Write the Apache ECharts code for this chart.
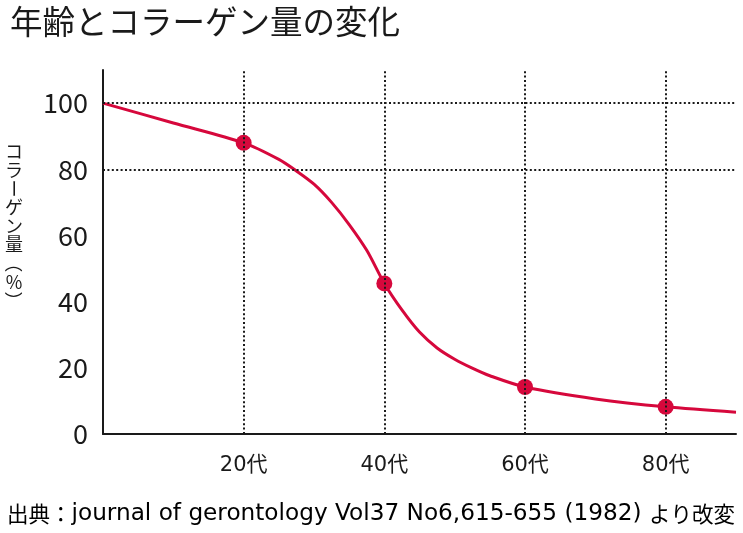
<!DOCTYPE html>
<html><head><meta charset="utf-8">
<script src="https://cdn.jsdelivr.net/npm/echarts@6/dist/echarts.min.js"></script>
<style>html,body{margin:0;padding:0;background:#fff}#c{width:743px;height:533px}</style>
</head><body><div id="c"></div>
<script>
var titleText = '年齢とコラーゲン量の変化';
var sourceCjkHead = '出典：';
var sourceLatin = 'journal of gerontology Vol37 No6,615-655 (1982) ';
var sourceCjkTail = 'より改変';
var yAxisNameChars = ['コ','ラ','ー','ゲ','ン','量','（','%','）'];
var yAxisNameRot = [0, 0, 1, 0, 0, 0, 1, 0, 1];
var curveAges = [0, 10, 20, 25, 27.5, 30, 32.5, 35, 37.5, 40, 42.5, 45, 47.5, 50, 52.5, 55, 60, 70, 80, 90];
var curveValues = [100, 94, 88, 83, 79.5, 75.5, 70, 63.3, 55.5, 45.5, 37.5, 30.8, 26, 22.6, 19.9, 17.6, 14.2, 10.6, 8.2, 6.6];
var markerAges = [20, 40, 60, 80];
var markerValues = [88, 45.5, 14.2, 8.2];
var xTickLabels = {20:'20代', 40:'40代', 60:'60代', 80:'80代'};
var yTicks = [0, 20, 40, 60, 80, 100];
var hGridValues = [80, 100];

var FONT = '"Noto Sans CJK JP", "Noto Sans", sans-serif';
var LFONT = '"DejaVu Sans", "Noto Sans CJK JP", sans-serif';
var RED = '#d6083c';
var INK = '#1a1a1a';
var dotted = {color: INK, width: 2, type: [2, 2.4]};

var nameGraphics = yAxisNameChars.map(function (ch, i) {
  var cy = 151 + i * 18.7;
  return {
    type: 'text', x: 14, y: cy, rotation: yAxisNameRot[i] ? -Math.PI / 2 : 0,
    style: {text: ch, font: '18px ' + FONT, fill: INK, align: 'center', verticalAlign: 'middle'}
  };
});

var chart = echarts.init(document.getElementById('c'), null, {renderer: 'canvas'});
chart.setOption({
  animation: false,
  backgroundColor: '#fff',
  textStyle: {fontFamily: FONT},
  title: {
    text: titleText, left: 5, top: 0,
    textStyle: {fontFamily: FONT, fontSize: 32.5, fontWeight: 'normal', color: INK}
  },
  graphic: nameGraphics.concat([
    {type: 'text', left: 7, top: 502,
     style: {
       text: '{c|' + sourceCjkHead + '}{l|' + sourceLatin + '}{c|' + sourceCjkTail + '}',
       rich: {
         c: {fontFamily: FONT, fontSize: 21.5, color: INK, lineHeight: 28, verticalAlign: 'middle'},
         l: {fontFamily: LFONT, fontSize: 23.2, color: INK, lineHeight: 28, verticalAlign: 'middle'}
       }
     }}
  ]),
  grid: {left: 103, right: 7, top: 70, bottom: 99},
  xAxis: {
    type: 'value', min: 0, max: 90, interval: 10,
    axisLine: {show: true, lineStyle: {color: INK, width: 2}},
    axisTick: {show: false},
    splitLine: {show: false},
    axisLabel: {
      fontFamily: LFONT, fontSize: 21, color: INK, margin: 21,
      showMinLabel: true, showMaxLabel: true,
      formatter: function (v) { return xTickLabels[v] || ''; }
    }
  },
  yAxis: {
    type: 'value', min: 0, max: 110, interval: 20,
    axisLine: {show: true, lineStyle: {color: INK, width: 2}},
    axisTick: {show: false},
    splitLine: {show: false},
    axisLabel: {
      fontFamily: FONT, fontSize: 27, color: INK, margin: 15,
      formatter: function (v) { return yTicks.indexOf(v) >= 0 ? String(v) : ''; }
    }
  },
  series: [
    {
      type: 'line', smooth: 0.3, symbol: 'none',
      data: curveAges.map(function (a, i) { return [a, curveValues[i]]; }),
      lineStyle: {color: RED, width: 3},
      z: 3,
      markLine: {
        silent: true, symbol: 'none', label: {show: false},
        lineStyle: dotted,
        data: markerAges.map(function (a) { return {xAxis: a}; })
          .concat(hGridValues.map(function (v) { return {yAxis: v}; }))
      }
    },
    {
      type: 'scatter', symbol: 'circle', symbolSize: 16,
      data: markerAges.map(function (a, i) { return [a, markerValues[i]]; }),
      itemStyle: {color: RED, opacity: 1}, z: 4
    }
  ]
});
</script></body></html>
